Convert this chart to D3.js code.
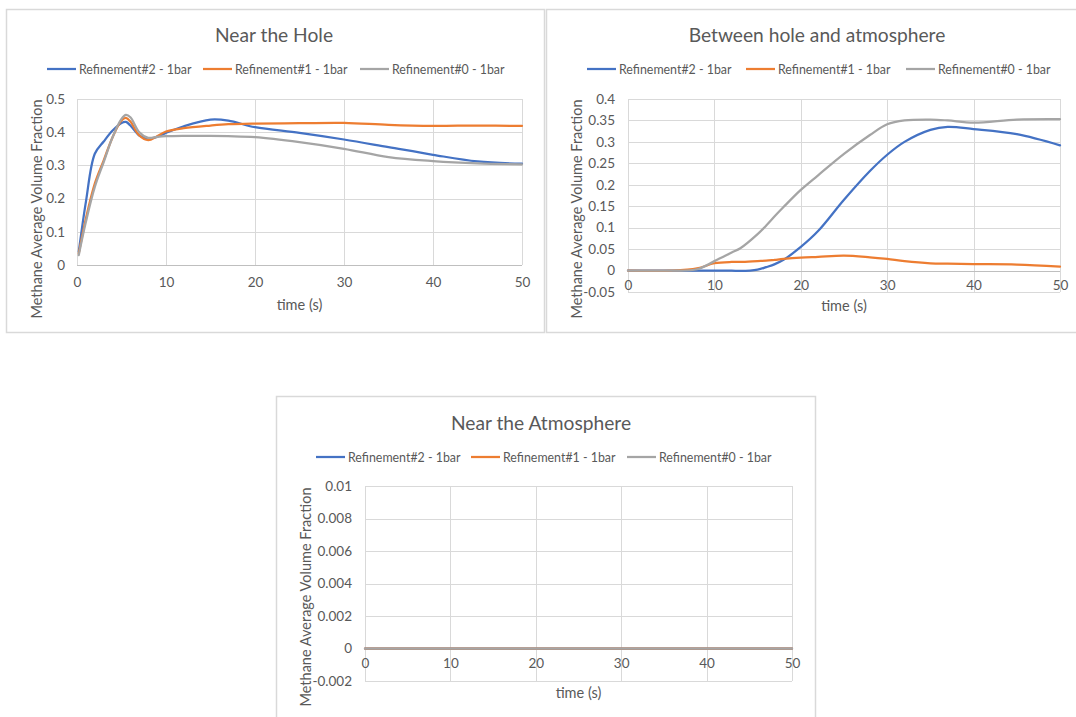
<!DOCTYPE html>
<html>
<head>
<meta charset="utf-8">
<script src="https://cdn.jsdelivr.net/npm/d3@7"></script>
<style>
  html, body { margin: 0; padding: 0; background: #ffffff; }
  svg { display: block; }
  text { font-family: Lato, "Open Sans", sans-serif; fill: #595959; }
</style>
</head>
<body>
<svg id="chart" width="1076" height="717"></svg>
<script>
// ---------- DATA ----------
const seriesNames = ["Refinement#2 - 1bar", "Refinement#1 - 1bar", "Refinement#0 - 1bar"];
const seriesColors = ["#4472C4", "#ED7D31", "#A5A5A5"];
const xAxisTitle = "time (s)";
const yAxisTitle = "Methane Average Volume Fraction";
const xTicks = [0, 10, 20, 30, 40, 50];

// Chart 1: Near the Hole
const holeTitle = "Near the Hole";
const holeTime = [0.2, 1, 2, 3, 4, 5, 5.5, 6, 7, 8, 9, 10, 12, 15, 17, 20, 25, 30, 35, 40, 45, 50];
const holeRef2 = [0.04, 0.19, 0.335, 0.372, 0.405, 0.428, 0.431, 0.42, 0.39, 0.38, 0.386, 0.398, 0.418, 0.438, 0.435, 0.415, 0.398, 0.378, 0.355, 0.332, 0.312, 0.305];
const holeRef1 = [0.035, 0.14, 0.245, 0.315, 0.385, 0.435, 0.443, 0.432, 0.39, 0.376, 0.388, 0.402, 0.412, 0.42, 0.424, 0.426, 0.427, 0.428, 0.422, 0.419, 0.42, 0.419];
const holeRef0 = [0.03, 0.13, 0.235, 0.31, 0.385, 0.44, 0.452, 0.445, 0.40, 0.383, 0.386, 0.388, 0.389, 0.389, 0.388, 0.385, 0.37, 0.35, 0.325, 0.313, 0.306, 0.303];
const holeYTicks = [0, 0.1, 0.2, 0.3, 0.4, 0.5];

// Chart 2: Between hole and atmosphere
const midTitle = "Between hole and atmosphere";
const midTime = [0, 5, 8, 10, 12, 13, 15, 16, 17, 18, 20, 22, 25, 28, 30, 32, 35, 37, 40, 45, 50];
const midRef2 = [0, 0, 0, 0, 0, -0.001, 0.002, 0.008, 0.015, 0.025, 0.055, 0.092, 0.165, 0.232, 0.27, 0.3, 0.328, 0.335, 0.33, 0.318, 0.292];
const midRef1 = [0, 0, 0.005, 0.017, 0.02, 0.02, 0.022, 0.023, 0.025, 0.027, 0.03, 0.032, 0.035, 0.031, 0.027, 0.022, 0.017, 0.016, 0.015, 0.014, 0.009];
const midRef0 = [0, 0, 0.003, 0.022, 0.042, 0.052, 0.085, 0.105, 0.127, 0.148, 0.188, 0.222, 0.272, 0.316, 0.341, 0.35, 0.352, 0.35, 0.345, 0.352, 0.353];
const midYTicks = [-0.05, 0, 0.05, 0.1, 0.15, 0.2, 0.25, 0.3, 0.35, 0.4];

// Chart 3: Near the Atmosphere
const atmTitle = "Near the Atmosphere";
const atmTime = [0, 10, 20, 30, 40, 50];
const atmRef2 = [0, 0, 0, 0, 0, 0];
const atmRef1 = [0, 0, 0, 0, 0, 0];
const atmRef0 = [0, 0, 0, 0, 0, 0];
const atmYTicks = [-0.002, 0, 0.002, 0.004, 0.006, 0.008, 0.01];

// ---------- DRAWING ----------
const svg = d3.select("#chart");
const gridColor = "#d9d9d9";
const borderColor = "#d9d9d9";
const FONT = "Lato, 'Open Sans', sans-serif";

function fmt(v) {
  if (Math.abs(v) < 1e-12) return "0";
  return String(+v.toFixed(4));
}

function drawChart(cfg) {
  const g = svg.append("g");
  g.append("rect")
    .attr("x", cfg.frame[0] + 0.5).attr("y", cfg.frame[1] + 0.5)
    .attr("width", cfg.frame[2]).attr("height", cfg.frame[3])
    .attr("fill", "#fff").attr("stroke", borderColor).attr("stroke-width", 1.5);

  const x = d3.scaleLinear().domain([0, 50]).range([cfg.left, cfg.right]);
  const y = d3.scaleLinear().domain(d3.extent(cfg.yTicks)).range([cfg.bottom, cfg.top]);

  g.append("g").selectAll("line").data(cfg.yTicks).join("line")
    .attr("x1", cfg.left).attr("x2", cfg.right)
    .attr("y1", d => Math.round(y(d)) + 0.5).attr("y2", d => Math.round(y(d)) + 0.5)
    .attr("stroke", gridColor).attr("stroke-width", 1);
  g.append("g").selectAll("line").data(cfg.xTicks).join("line")
    .attr("x1", d => Math.round(x(d)) + 0.5).attr("x2", d => Math.round(x(d)) + 0.5)
    .attr("y1", cfg.top).attr("y2", cfg.bottom)
    .attr("stroke", gridColor).attr("stroke-width", 1);
  g.append("line")
    .attr("x1", cfg.left).attr("x2", cfg.right)
    .attr("y1", Math.round(y(0)) + 0.5).attr("y2", Math.round(y(0)) + 0.5)
    .attr("stroke", "#bfbfbf").attr("stroke-width", 1);

  const yAxis = d3.axisLeft(y).tickValues(cfg.yTicks).tickFormat(fmt).tickSize(0).tickPadding(cfg.yPad);
  const ya = g.append("g").attr("transform", `translate(${cfg.left},0)`).call(yAxis);
  ya.select(".domain").remove();
  ya.selectAll("text").attr("font-size", "13.5px").attr("fill", "#595959").style("font-family", FONT);

  const xAxis = d3.axisBottom(x).tickValues(cfg.xTicks).tickFormat(fmt).tickSize(0).tickPadding(cfg.xPad);
  const xa = g.append("g").attr("transform", `translate(0,${y(0)})`).call(xAxis);
  xa.select(".domain").remove();
  xa.selectAll("text").attr("font-size", "13.5px").attr("fill", "#595959").style("font-family", FONT);

  const line = d3.line()
    .x((d, i) => x(cfg.time[i]))
    .y(d => y(d))
    .curve(d3.curveCatmullRom.alpha(0.5));
  cfg.series.forEach((vals, i) => {
    g.append("path").datum(vals)
      .attr("d", line)
      .attr("fill", "none")
      .attr("stroke", seriesColors[i])
      .attr("stroke-width", 2.25)
      .attr("stroke-linejoin", "round")
      .attr("stroke-linecap", "round");
  });

  g.append("text").attr("x", cfg.titleX).attr("y", cfg.titleY)
    .attr("text-anchor", "middle").attr("dominant-baseline", "central")
    .attr("font-size", "19.2px").text(cfg.title);

  seriesNames.forEach((name, i) => {
    const lx = cfg.legendX[i];
    g.append("line").attr("x1", lx).attr("x2", lx + 29)
      .attr("y1", cfg.legendY).attr("y2", cfg.legendY)
      .attr("stroke", seriesColors[i]).attr("stroke-width", 2.25);
    g.append("text").attr("x", lx + 32).attr("y", cfg.legendY)
      .attr("dominant-baseline", "central").attr("font-size", "12.4px")
      .text(name);
  });

  g.append("text").attr("x", (cfg.left + cfg.right) / 2).attr("y", cfg.xTitleY)
    .attr("text-anchor", "middle").attr("dominant-baseline", "central")
    .attr("font-size", "14.5px").text(xAxisTitle);
  g.append("text")
    .attr("transform", `translate(${cfg.yTitleX},${cfg.yTitleY}) rotate(-90)`)
    .attr("text-anchor", "middle").attr("dominant-baseline", "central")
    .attr("font-size", "14.5px").text(yAxisTitle);
}

drawChart({
  frame: [6, 9, 538, 323],
  left: 77, right: 522, top: 99, bottom: 265,
  yTicks: holeYTicks, xTicks: xTicks, yPad: 12, xPad: 12,
  time: holeTime, series: [holeRef2, holeRef1, holeRef0],
  title: holeTitle, titleX: 274, titleY: 34,
  legendX: [47, 203, 360], legendY: 69,
  xTitleY: 304, yTitleX: 36, yTitleY: 209
});

drawChart({
  frame: [546, 9, 540, 323],
  left: 628, right: 1060, top: 99, bottom: 292,
  yTicks: midYTicks, xTicks: xTicks, yPad: 13, xPad: 10,
  time: midTime, series: [midRef2, midRef1, midRef0],
  title: midTitle, titleX: 817, titleY: 34,
  legendX: [587, 746, 906], legendY: 69,
  xTitleY: 305, yTitleX: 576, yTitleY: 209
});

drawChart({
  frame: [276, 396, 539, 330],
  left: 365, right: 792, top: 486, bottom: 681,
  yTicks: atmYTicks, xTicks: xTicks, yPad: 13, xPad: 10,
  time: atmTime, series: [atmRef2, atmRef1, atmRef0],
  title: atmTitle, titleX: 541, titleY: 422,
  legendX: [316, 471, 627], legendY: 457,
  xTitleY: 692, yTitleX: 305, yTitleY: 597
});
</script>
</body>
</html>
